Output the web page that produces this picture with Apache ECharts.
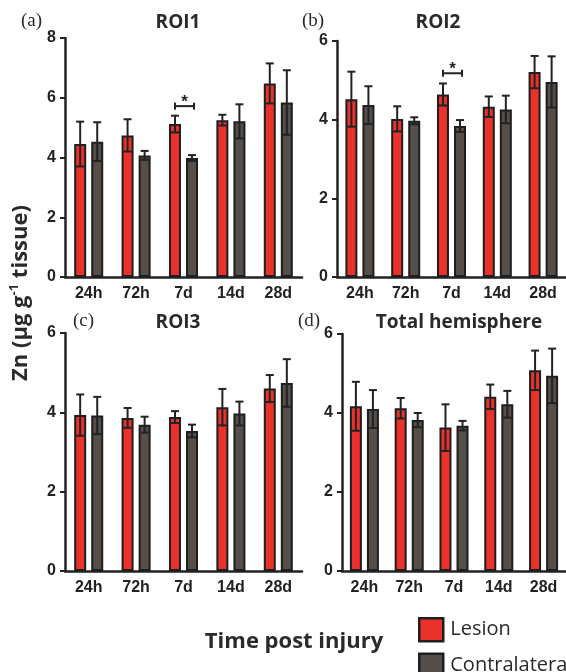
<!DOCTYPE html>
<html><head><meta charset="utf-8">
<script src="https://cdn.jsdelivr.net/npm/echarts@6/dist/echarts.min.js"></script>
<style>html,body{margin:0;padding:0;background:#fff}#c{width:566px;height:672px}</style>
</head><body><div id="c"></div>
<script>
// ---- data ----
const categories = ['24h', '72h', '7d', '14d', '28d'];
const roi1Lesion = [4.45, 4.74, 5.12, 5.25, 6.48];
const roi1LesionErr = [0.75, 0.54, 0.28, 0.18, 0.67];
const roi1Contra = [4.53, 4.07, 3.98, 5.21, 5.84];
const roi1ContraErr = [0.65, 0.15, 0.10, 0.57, 1.08];
const roi2Lesion = [4.52, 4.02, 4.64, 4.33, 5.21];
const roi2LesionErr = [0.70, 0.32, 0.28, 0.26, 0.41];
const roi2Contra = [4.37, 3.97, 3.84, 4.26, 4.96];
const roi2ContraErr = [0.48, 0.09, 0.15, 0.35, 0.65];
const roi3Lesion = [3.93, 3.86, 3.88, 4.13, 4.60];
const roi3LesionErr = [0.52, 0.25, 0.15, 0.46, 0.34];
const roi3Contra = [3.92, 3.69, 3.53, 3.97, 4.74];
const roi3ContraErr = [0.47, 0.20, 0.16, 0.30, 0.60];
const totalLesion = [4.17, 4.12, 3.63, 4.41, 5.08];
const totalLesionErr = [0.62, 0.26, 0.59, 0.31, 0.50];
const totalContra = [4.10, 3.82, 3.68, 4.22, 4.94];
const totalContraErr = [0.48, 0.18, 0.12, 0.34, 0.69];
const yMax = [8, 6, 6, 6];
const yTickStep = 2;
const panelTitles = ['ROI1', 'ROI2', 'ROI3', 'Total hemisphere'];
const panelTags = ['(a)', '(b)', '(c)', '(d)'];
const sigMarks = [{panel: 0, cat: 2, y: 5.72}, {panel: 1, cat: 2, y: 5.18}];

// ---- style / layout ----
const RED = '#e8322b', GRAY = '#554e49', EDGE = '#1e1e1e', INK = '#222';
const barW = 12, barGapRatio = 0.42;
const off = barW * (1 + barGapRatio) / 2;
const grids = [
  {left: 65, top: 38, width: 237, height: 239},
  {left: 337, top: 41, width: 237, height: 236},
  {left: 65, top: 333, width: 237, height: 238},
  {left: 342, top: 334, width: 237, height: 237}
];
const lesionSets = [roi1Lesion, roi2Lesion, roi3Lesion, totalLesion];
const lesionErrs = [roi1LesionErr, roi2LesionErr, roi3LesionErr, totalLesionErr];
const contraSets = [roi1Contra, roi2Contra, roi3Contra, totalContra];
const contraErrs = [roi1ContraErr, roi2ContraErr, roi3ContraErr, totalContraErr];
const titlePos = [[178, 23], [438, 23], [178, 323], [459, 323]];
const tagPos = [[21, 21], [302, 21], [73, 321], [298, 321]];

const chart = echarts.init(document.getElementById('c'));

function errSeries(gi, means, errs, side) {
  return {
    type: 'custom', xAxisIndex: gi, yAxisIndex: gi, z: 5, silent: true,
    encode: {x: 0, y: [1, 2]},
    data: means.map((m, i) => [i, m - errs[i], m + errs[i]]),
    renderItem: (params, api) => {
      const lo = api.coord([api.value(0), api.value(1)]);
      const hi = api.coord([api.value(0), api.value(2)]);
      const x = lo[0] + side * off;
      const cap = 4;
      const st = {stroke: INK, lineWidth: 2};
      return {type: 'group', children: [
        {type: 'line', shape: {x1: x, y1: lo[1], x2: x, y2: hi[1]}, style: st},
        {type: 'line', shape: {x1: x - cap, y1: hi[1], x2: x + cap, y2: hi[1]}, style: st},
        {type: 'line', shape: {x1: x - cap, y1: lo[1], x2: x + cap, y2: lo[1]}, style: st}
      ]};
    }
  };
}

const xAxes = [], yAxes = [], series = [], graphics = [];
grids.forEach((g, gi) => {
  xAxes.push({
    type: 'category', gridIndex: gi, data: categories,
    axisLine: {lineStyle: {color: INK, width: 2.5}},
    axisTick: {alignWithLabel: true, length: 5, lineStyle: {color: INK, width: 2}},
    axisLabel: {color: INK, fontSize: 16, fontWeight: 'bold', fontFamily: 'Liberation Sans', margin: 9}
  });
  yAxes.push({
    type: 'value', gridIndex: gi, min: 0, max: yMax[gi], interval: yTickStep,
    splitLine: {show: false},
    axisLine: {show: true, lineStyle: {color: INK, width: 2.5}},
    axisTick: {show: true, length: 5, lineStyle: {color: INK, width: 2}},
    axisLabel: {color: INK, fontSize: 16, fontWeight: 'bold', fontFamily: 'Liberation Sans', margin: 9}
  });
  series.push({
    name: 'Lesion', type: 'bar', xAxisIndex: gi, yAxisIndex: gi, data: lesionSets[gi],
    barWidth: barW, barGap: (barGapRatio * 100) + '%',
    itemStyle: {color: RED, borderColor: EDGE, borderWidth: 2}
  });
  series.push({
    name: 'Contralateral', type: 'bar', xAxisIndex: gi, yAxisIndex: gi, data: contraSets[gi],
    barWidth: barW, barGap: (barGapRatio * 100) + '%',
    itemStyle: {color: GRAY, borderColor: EDGE, borderWidth: 2}
  });
  series.push(errSeries(gi, lesionSets[gi], lesionErrs[gi], -1));
  series.push(errSeries(gi, contraSets[gi], contraErrs[gi], 1));
  graphics.push({
    type: 'text', x: titlePos[gi][0], y: titlePos[gi][1],
    style: {text: panelTitles[gi], fill: '#2a2a2a', font: 'bold 19px "Open Sans"', align: 'center', verticalAlign: 'middle'}
  });
  graphics.push({
    type: 'text', x: tagPos[gi][0], y: tagPos[gi][1],
    style: {text: panelTags[gi], fill: '#2a2a2a', font: '19px "Liberation Serif"', align: 'left', verticalAlign: 'middle'}
  });
});

sigMarks.forEach(s => {
  series.push({
    type: 'custom', xAxisIndex: s.panel, yAxisIndex: s.panel, z: 6, silent: true,
    encode: {x: 0, y: 1},
    data: [[s.cat, s.y]],
    renderItem: (params, api) => {
      const p = api.coord([api.value(0), api.value(1)]);
      const x1 = p[0] - off, x2 = p[0] + off + 2, y = p[1];
      const st = {stroke: INK, lineWidth: 2};
      return {type: 'group', children: [
        {type: 'line', shape: {x1: x1, y1: y, x2: x2, y2: y}, style: st},
        {type: 'line', shape: {x1: x1, y1: y - 3.5, x2: x1, y2: y + 3.5}, style: st},
        {type: 'line', shape: {x1: x2, y1: y - 3.5, x2: x2, y2: y + 3.5}, style: st},
        {type: 'text', x: (x1 + x2) / 2, y: y - 4, style: {text: '*', fill: INK, font: 'bold 17px "Liberation Sans"', align: 'center', verticalAlign: 'middle'}}
      ]};
    }
  });
});

graphics.push({
  type: 'text', x: 21, y: 293, rotation: Math.PI / 2,
  style: {
    text: '{n|Zn (μg g}{s|-1}{n| tissue)}', align: 'center', verticalAlign: 'middle',
    rich: {
      n: {fontSize: 22, fontWeight: 'bold', fontFamily: 'Open Sans', fill: '#2a2a2a', lineHeight: 27},
      s: {fontSize: 13, fontWeight: 'bold', fontFamily: 'Open Sans', fill: '#2a2a2a', verticalAlign: 'top', lineHeight: 15}
    }
  }
});
graphics.push({
  type: 'text', x: 294, y: 642,
  style: {text: 'Time post injury', fill: '#2a2a2a', font: 'bold 22px "Open Sans"', align: 'center', verticalAlign: 'middle'}
});

chart.setOption({
  animation: false,
  backgroundColor: '#fff',
  grid: grids.map(g => Object.assign({containLabel: false}, g)),
  xAxis: xAxes,
  yAxis: yAxes,
  legend: {
    data: ['Lesion', 'Contralateral'], orient: 'vertical', left: 418, top: 617, height: 100, width: 300,
    padding: 0,
    icon: 'rect', itemWidth: 24, itemHeight: 23, itemGap: 10,
    itemStyle: {borderColor: EDGE, borderWidth: 2.5},
    textStyle: {fontSize: 20, fontFamily: 'Open Sans', color: '#2a2a2a', padding: [0, 0, 0, 2]},
    selectedMode: false
  },
  graphic: graphics,
  series: series
});
</script></body></html>
